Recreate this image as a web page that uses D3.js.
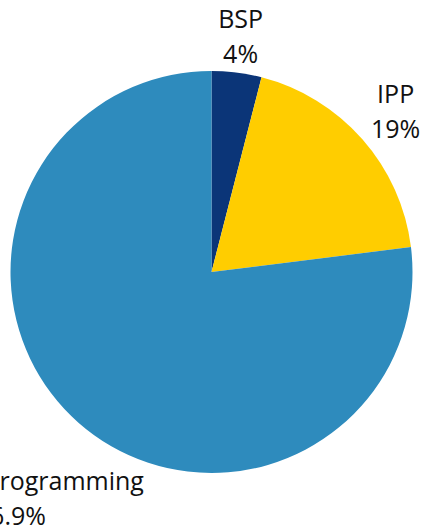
<!DOCTYPE html>
<meta charset="utf-8">
<html>

<head>
    <title>Pie</title>
    <style>
        body { margin: 0; background: #fff; }
        text { font-family: "Open Sans", sans-serif; font-size: 25px; fill: #111; }
    </style>
</head>

<body>
    <div id="container"></div>

    <script src="https://d3js.org/d3.v7.min.js"></script>

    <script>
        // chart data
        const categories = ["BSP", "IPP", "Programming"];
        const values = [4, 19, 76.9];
        const colors = ["#0b3578", "#ffcd00", "#2e8bbd"];

        const width = 427,
            height = 527;

        const cx = 211.5, cy = 272, radius = 201;

        const svg = d3.select("#container").append("svg")
            .attr("width", width)
            .attr("height", height);

        const pie = d3.pie().sort(null).value(d => d.value);
        const arcs = pie(categories.map((c, i) => ({ name: c, value: values[i], color: colors[i] })));

        const arc = d3.arc().innerRadius(0).outerRadius(radius);

        const g = svg.append("g").attr("transform", `translate(${cx},${cy})`);

        g.selectAll("path")
            .data(arcs)
            .join("path")
            .attr("d", arc)
            .attr("fill", d => d.data.color);

        // labels sit outside the slice along its mid angle, nudged a bit
        const labelArc = d3.arc().innerRadius(232).outerRadius(232);
        const labelAdjust = {
            BSP: { dx: 0, dy: 0, anchor: "middle", x2: 0 },
            IPP: { dx: 10, dy: -2, anchor: "middle", x2: 0 },
            Programming: { dx: 86, dy: 58, anchor: "end", x2: -98 }
        };

        const labels = g.selectAll("text.lbl")
            .data(arcs)
            .join("text")
            .attr("class", "lbl")
            .attr("text-anchor", d => labelAdjust[d.data.name].anchor)
            .attr("transform", d => {
                const [x, y] = labelArc.centroid(d);
                const a = labelAdjust[d.data.name];
                return `translate(${x + a.dx},${y + a.dy})`;
            });

        labels.append("tspan")
            .attr("x", 0)
            .attr("y", -14)
            .text(d => d.data.name);

        labels.append("tspan")
            .attr("x", d => labelAdjust[d.data.name].x2)
            .attr("y", 21)
            .text(d => d.data.value + "%");
    </script>
</body>

</html>
